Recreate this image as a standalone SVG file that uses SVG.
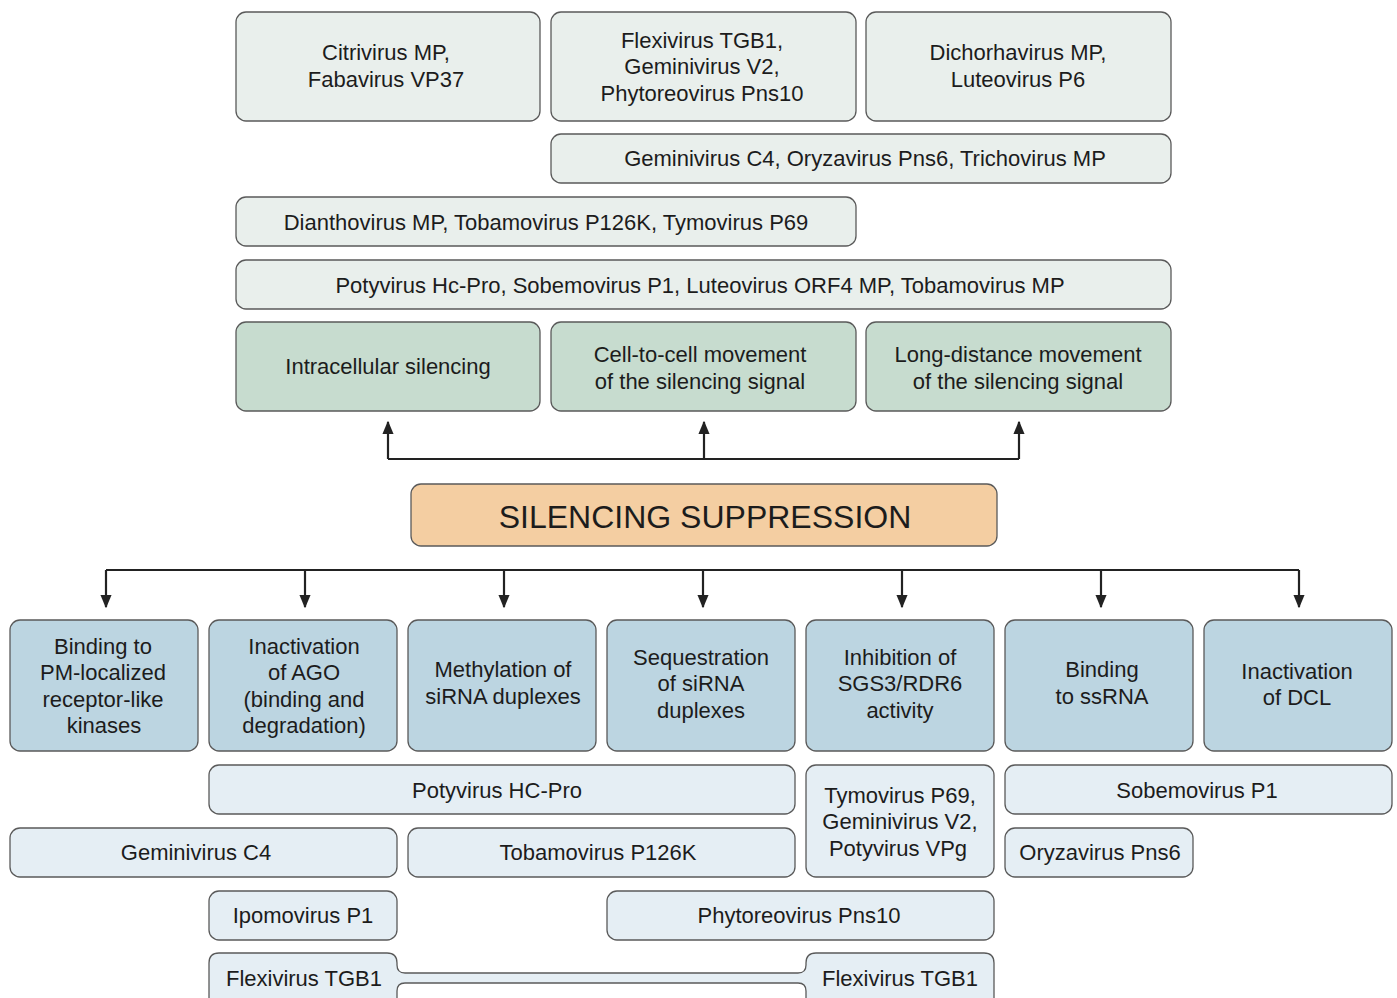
<svg xmlns="http://www.w3.org/2000/svg" width="1397" height="998" viewBox="0 0 1397 998">
<defs>
<style>
text{font-family:"Liberation Sans",Arial,sans-serif;font-size:22px;fill:#1c1c1c;text-anchor:middle}
.top{fill:#e9efec;stroke:#5a5a5a;stroke-width:1.3}
.grn{fill:#c7dccf;stroke:#5a5a5a;stroke-width:1.3}
.org{fill:#f4cea2;stroke:#5a5a5a;stroke-width:1.3}
.blu{fill:#bcd5e1;stroke:#5a5a5a;stroke-width:1.3}
.lb{fill:#e5eef4;stroke:#5a5a5a;stroke-width:1.3}
.ln{fill:none;stroke:#222;stroke-width:2.2}
.title{font-size:32px}
</style>
<marker id="ah" viewBox="0 0 10 10" refX="9" refY="5" markerWidth="6" markerHeight="6" orient="auto" markerUnits="strokeWidth">
<path d="M0,0.8 L10,5 L0,9.2 Z" fill="#222"/>
</marker>
</defs>
<rect width="1397" height="998" fill="#fff"/>

<g id="n-citrivirus"><rect class="top" x="236" y="12" width="304" height="109" rx="10"/><text x="386" y="60">Citrivirus MP,</text><text x="386" y="87">Fabavirus VP37</text></g>
<g id="n-flexivirus-top"><rect class="top" x="551" y="12" width="305" height="109" rx="10"/><text x="702" y="48">Flexivirus TGB1,</text><text x="702" y="74">Geminivirus V2,</text><text x="702" y="101">Phytoreovirus Pns10</text></g>
<g id="n-dichorhavirus"><rect class="top" x="866" y="12" width="305" height="109" rx="10"/><text x="1018" y="60">Dichorhavirus MP,</text><text x="1018" y="87">Luteovirus P6</text></g>
<g id="n-gemini-c4-top"><rect class="top" x="551" y="134" width="620" height="49" rx="10"/><text x="865" y="166">Geminivirus C4, Oryzavirus Pns6, Trichovirus MP</text></g>
<g id="n-dianthovirus"><rect class="top" x="236" y="197" width="620" height="49" rx="10"/><text x="546" y="230">Dianthovirus MP, Tobamovirus P126K, Tymovirus P69</text></g>
<g id="n-potyvirus-top"><rect class="top" x="236" y="260" width="935" height="49" rx="10"/><text x="700" y="293">Potyvirus Hc-Pro, Sobemovirus P1, Luteovirus ORF4 MP, Tobamovirus MP</text></g>

<g id="n-intracellular"><rect class="grn" x="236" y="322" width="304" height="89" rx="10"/><text x="388" y="374">Intracellular silencing</text></g>
<g id="n-cell-to-cell"><rect class="grn" x="551" y="322" width="305" height="89" rx="10"/><text x="700" y="362">Cell-to-cell movement</text><text x="700" y="389">of the silencing signal</text></g>
<g id="n-long-distance"><rect class="grn" x="866" y="322" width="305" height="89" rx="10"/><text x="1018" y="362">Long-distance movement</text><text x="1018" y="389">of the silencing signal</text></g>

<g id="n-silencing-suppression"><rect class="org" x="411" y="484" width="586" height="62" rx="10"/><text class="title" x="705" y="528">SILENCING SUPPRESSION</text></g>

<g id="n-pm-kinases"><rect class="blu" x="10" y="620" width="188" height="131" rx="10"/><text x="103" y="654">Binding to</text><text x="103" y="680">PM-localized</text><text x="103" y="707">receptor-like</text><text x="104" y="733">kinases</text></g>
<g id="n-ago"><rect class="blu" x="209" y="620" width="188" height="131" rx="10"/><text x="304" y="654">Inactivation</text><text x="304" y="680">of AGO</text><text x="304" y="707">(binding and</text><text x="304" y="733">degradation)</text></g>
<g id="n-methylation"><rect class="blu" x="408" y="620" width="188" height="131" rx="10"/><text x="503" y="677">Methylation of</text><text x="503" y="704">siRNA duplexes</text></g>
<g id="n-sequestration"><rect class="blu" x="607" y="620" width="188" height="131" rx="10"/><text x="701" y="665">Sequestration</text><text x="701" y="691">of siRNA</text><text x="701" y="718">duplexes</text></g>
<g id="n-sgs3"><rect class="blu" x="806" y="620" width="188" height="131" rx="10"/><text x="900" y="665">Inhibition of</text><text x="900" y="691">SGS3/RDR6</text><text x="900" y="718">activity</text></g>
<g id="n-ssrna"><rect class="blu" x="1005" y="620" width="188" height="131" rx="10"/><text x="1102" y="677">Binding</text><text x="1102" y="704">to ssRNA</text></g>
<g id="n-dcl"><rect class="blu" x="1204" y="620" width="188" height="131" rx="10"/><text x="1297" y="679">Inactivation</text><text x="1297" y="705">of DCL</text></g>

<g id="n-potyvirus-hcpro"><rect class="lb" x="209" y="765" width="586" height="49" rx="10"/><text x="497" y="798">Potyvirus HC-Pro</text></g>
<g id="n-tymovirus"><rect class="lb" x="806" y="765" width="188" height="112" rx="10"/><text x="900" y="803">Tymovirus P69,</text><text x="900" y="829">Geminivirus V2,</text><text x="898" y="856">Potyvirus VPg</text></g>
<g id="n-sobemovirus"><rect class="lb" x="1005" y="765" width="387" height="49" rx="10"/><text x="1197" y="798">Sobemovirus P1</text></g>
<g id="n-gemini-c4"><rect class="lb" x="10" y="828" width="387" height="49" rx="10"/><text x="196" y="860">Geminivirus C4</text></g>
<g id="n-tobamovirus"><rect class="lb" x="408" y="828" width="387" height="49" rx="10"/><text x="598" y="860">Tobamovirus P126K</text></g>
<g id="n-oryzavirus"><rect class="lb" x="1005" y="828" width="188" height="49" rx="10"/><text x="1100" y="860">Oryzavirus Pns6</text></g>
<g id="n-ipomovirus"><rect class="lb" x="209" y="891" width="188" height="49" rx="10"/><text x="303" y="923">Ipomovirus P1</text></g>
<g id="n-phytoreovirus"><rect class="lb" x="607" y="891" width="387" height="49" rx="10"/><text x="799" y="923">Phytoreovirus Pns10</text></g>
<g id="n-flexivirus-tgb1">
<path class="lb" d="M209,1010 L209,963 Q209,953 219,953 L387,953 Q397,953 397,963 L397,965 Q397,973 405,973 L798,973 Q806,973 806,965 L806,963 Q806,953 816,953 L984,953 Q994,953 994,963 L994,1010 L806,1010 L806,991 Q806,983 798,983 L405,983 Q397,983 397,991 L397,1010 Z"/>
<text x="304" y="986">Flexivirus TGB1</text><text x="900" y="986">Flexivirus TGB1</text>
</g>

<g id="connectors">
<path class="ln" d="M388,459 L1019,459"/>
<path class="ln" d="M388,459 L388,422" marker-end="url(#ah)"/>
<path class="ln" d="M704,459 L704,422" marker-end="url(#ah)"/>
<path class="ln" d="M1019,459 L1019,422" marker-end="url(#ah)"/>
<path class="ln" d="M106,570 L1299,570"/>
<path class="ln" d="M106,570 L106,607" marker-end="url(#ah)"/>
<path class="ln" d="M305,570 L305,607" marker-end="url(#ah)"/>
<path class="ln" d="M504,570 L504,607" marker-end="url(#ah)"/>
<path class="ln" d="M703,570 L703,607" marker-end="url(#ah)"/>
<path class="ln" d="M902,570 L902,607" marker-end="url(#ah)"/>
<path class="ln" d="M1101,570 L1101,607" marker-end="url(#ah)"/>
<path class="ln" d="M1299,570 L1299,607" marker-end="url(#ah)"/>
</g>
</svg>
